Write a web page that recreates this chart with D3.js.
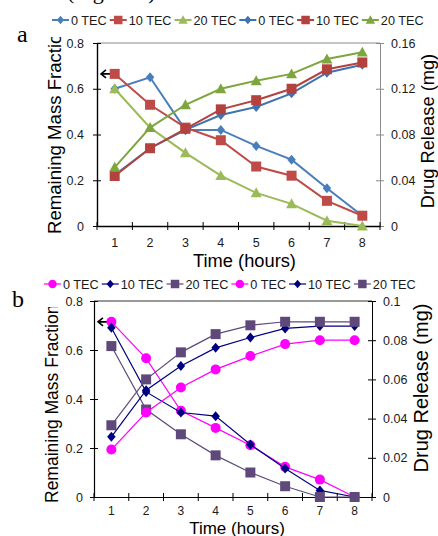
<!DOCTYPE html>
<html><head><meta charset="utf-8">
<script src="https://cdn.jsdelivr.net/npm/d3@7"></script>
<style>body{margin:0;background:#fff}svg{display:block}</style>
</head><body>
<svg id="c" width="438" height="536"></svg>
<script>
// ---------- data ----------
const hours = [1,2,3,4,5,6,7,8];
const seriesNames = ["0 TEC","10 TEC","20 TEC"];
// chart a : remaining mass fraction (left axis)
const aMass0  = [0.60,0.65,0.42,0.42,0.35,0.29,0.165,0.045];
const aMass10 = [0.665,0.53,0.43,0.375,0.26,0.22,0.11,0.045];
const aMass20 = [0.60,0.43,0.32,0.22,0.145,0.097,0.023,0];
// chart a : drug release mg (right axis)
const aDrug0  = [0.0446,0.068,0.084,0.097,0.104,0.116,0.134,0.141];
const aDrug10 = [0.0437,0.068,0.085,0.102,0.110,0.120,0.137,0.143];
const aDrug20 = [0.0513,0.086,0.106,0.120,0.127,0.133,0.146,0.152];
// chart b : remaining mass fraction (left axis)
const bMass0  = [0.715,0.566,0.352,0.282,0.211,0.123,0.071,0];
const bMass10 = [0.691,0.429,0.345,0.33,0.214,0.116,0.027,0];
const bMass20 = [0.616,0.357,0.256,0.17,0.10,0.044,0,0];
// chart b : drug release mg (right axis)
const bDrug0  = [0.0242,0.0431,0.0559,0.0651,0.0719,0.078,0.080,0.080];
const bDrug10 = [0.0307,0.0545,0.0668,0.0761,0.0814,0.086,0.0872,0.0872];
const bDrug20 = [0.0366,0.060,0.0738,0.0831,0.0876,0.0894,0.0894,0.0894];
// ticks
const aLeftTicks = [0,0.2,0.4,0.6,0.8];
const aLeftTickLabels = ["0","0.2","0.4","0.6","0.8"];
const aRightTicks = [0,0.04,0.08,0.12,0.16];
const aRightTickLabels = ["0","0.04","0.08","0.12","0.16"];
const bLeftTicks = [0,0.2,0.4,0.6,0.8];
const bLeftTickLabels = ["0","0.2","0.4","0.6","0.8"];
const bRightTicks = [0,0.02,0.04,0.06,0.08,0.1];
const bRightTickLabels = ["0","0.02","0.04","0.06","0.08","0.1"];
const xTitle = "Time (hours)";
const leftTitle = "Remaining Mass Fraction";
const rightTitle = "Drug Release (mg)";

// ---------- drawing ----------
const svg = d3.select("#c");
const SANS = "'Liberation Sans', Arial, sans-serif";
const SERIF = "'Liberation Serif', 'Times New Roman', serif";

svg.append("text").attr("x",67).attr("y",-1).attr("font-family",SERIF)
  .attr("font-size",22).attr("fill","#000").text("(Figure 2).");

function markerPath(shape, s){
  const h = s/2;
  if (shape==="diamond") return `M0,${-h}L${h*0.85},0L0,${h}L${-h*0.85},0Z`;
  if (shape==="square") return `M${-h},${-h}H${h}V${h}H${-h}Z`;
  if (shape==="triangle") return `M0,${-h}L${h},${h*0.8}L${-h},${h*0.8}Z`;
  if (shape==="circle") return d3.symbol(d3.symbolCircle, Math.PI*h*h)();
}

let clipId = 0;
function panel(cfg){
  const g = svg.append("g");
  const x = d3.scaleBand().domain(hours).range([cfg.left, cfg.right]);
  const yL = d3.scaleLinear().domain([cfg.leftTicks[0], cfg.leftTicks[cfg.leftTicks.length-1]]).range([cfg.bottom, cfg.top]);
  const yR = d3.scaleLinear().domain([cfg.rightTicks[0], cfg.rightTicks[cfg.rightTicks.length-1]]).range([cfg.bottom, cfg.top]);
  const cx = d => x(d) + x.bandwidth()/2;

  // top border
  g.append("line").attr("x1",cfg.left).attr("x2",cfg.right).attr("y1",cfg.top).attr("y2",cfg.top)
    .attr("stroke",cfg.borderColor).attr("stroke-width",1);

  // left axis
  const la = g.append("g").attr("transform",`translate(${cfg.left},0)`)
    .call(d3.axisLeft(yL).tickValues(cfg.leftTicks).tickFormat((d,i)=>cfg.leftTickLabels[i])
      .tickSize(4).tickSizeOuter(0).tickPadding(cfg.lpad));
  la.selectAll(".tick line").attr("x1",4).attr("stroke","#000");
  la.select(".domain").attr("stroke","#000").attr("stroke-width",cfg.axisW);

  // right axis
  const ra = g.append("g").attr("transform",`translate(${cfg.right},0)`)
    .call(d3.axisRight(yR).tickValues(cfg.rightTicks).tickFormat((d,i)=>cfg.rightTickLabels[i])
      .tickSize(4).tickSizeOuter(0).tickPadding(cfg.rpad));
  ra.selectAll(".tick line").attr("x1",-4).attr("stroke",cfg.rightColor);
  ra.select(".domain").attr("stroke",cfg.rightColor).attr("stroke-width",1);

  // bottom axis (labels at band centres, ticks at band edges)
  const ba = g.append("g").attr("transform",`translate(0,${cfg.bottom})`)
    .call(d3.axisBottom(x).tickSize(0).tickSizeOuter(0).tickPadding(cfg.bpad));
  ba.select(".domain").attr("stroke","#000").attr("stroke-width",cfg.axisW);
  const edges = hours.map(h=>x(h)).concat([x.range()[1]]);
  g.selectAll(null).data(edges).enter().append("line")
    .attr("x1",d=>d).attr("x2",d=>d).attr("y1",cfg.bottom-4).attr("y2",cfg.bottom+4)
    .attr("stroke","#000").attr("stroke-width",1);

  [la,ra].forEach(a=>a.selectAll("text").attr("font-family",SANS).attr("font-size",12.5).attr("fill","#1a1a1a"));
  ba.selectAll("text").attr("font-family",SANS).attr("font-size",cfg.xTickSize).attr("fill","#1a1a1a");

  // axis titles
  g.append("text").attr("x",(x.range()[0]+x.range()[1])/2 + cfg.xTitleShift).attr("y",cfg.xTitleY)
    .attr("text-anchor","middle").attr("font-family",SANS).attr("font-size",cfg.xTitleSize).text(xTitle);

  const cid = "clip"+(clipId++);
  svg.append("clipPath").attr("id",cid).append("rect").attr("x",0).attr("y",cfg.leftClipTop).attr("width",cfg.left).attr("height",cfg.bottom+40-cfg.leftClipTop);
  g.append("g").attr("clip-path",`url(#${cid})`).append("text")
    .attr("transform",`translate(${cfg.leftTitleX},${cfg.leftTitleY}) rotate(-90)`)
    .attr("font-family",SANS).attr("font-size",cfg.leftTitleSize).text(leftTitle);

  g.append("text").attr("transform",`translate(${cfg.rightTitleX},${cfg.rightTitleY}) rotate(-90)`)
    .attr("text-anchor","middle").attr("font-family",SANS).attr("font-size",cfg.rightTitleSize).text(rightTitle);

  // arrow pointing at left axis
  const ay = yL(cfg.arrowValue);
  g.append("path").attr("d",`M${cfg.left+4},${ay}H${cfg.left+21}M${cfg.left+9},${ay-4}L${cfg.left+4},${ay}L${cfg.left+9},${ay+4}`)
    .attr("fill","none").attr("stroke","#000").attr("stroke-width",1.6);

  // series
  cfg.series.forEach(s=>{
    const y = s.axis==="L" ? yL : yR;
    const line = d3.line().x((d,i)=>cx(hours[i])).y(d=>y(d));
    g.append("path").attr("d",line(s.values)).attr("fill","none").attr("stroke",s.color).attr("stroke-width",cfg.lineW);
    g.selectAll(null).data(s.values).enter().append("path")
      .attr("transform",(d,i)=>`translate(${cx(hours[i])},${y(d)})`)
      .attr("d",markerPath(s.shape,s.size)).attr("fill",s.color);
  });

  // legend
  let lx = cfg.legendX;
  cfg.series.forEach(s=>{
    const lg = g.append("g");
    lg.append("line").attr("x1",lx).attr("x2",lx+17).attr("y1",cfg.legendY).attr("y2",cfg.legendY)
      .attr("stroke",s.color).attr("stroke-width",cfg.lineW);
    lg.append("path").attr("transform",`translate(${lx+8.5},${cfg.legendY})`).attr("d",markerPath(s.shape,s.size*0.85)).attr("fill",s.color);
    const t = lg.append("text").attr("x",lx+19).attr("y",cfg.legendY+4.5).attr("font-family",SANS)
      .attr("font-size",12.7).attr("fill","#1a1a1a").text(s.name);
    lx += 19 + t.node().getComputedTextLength() + 3;
  });

  svg.append("text").attr("x",cfg.letterX).attr("y",cfg.letterY).attr("font-family",SERIF)
    .attr("font-size",24).text(cfg.letter);
}

const aColL = ["#4A7EBB","#BE4B48","#9BBB59"];
const aColR = ["#3F72B2","#B3423F","#7EA63F"];
panel({
  letter:"a", letterX:17, letterY:42,
  left:97, right:380, top:43, bottom:226,
  leftTicks:aLeftTicks, leftTickLabels:aLeftTickLabels,
  rightTicks:aRightTicks, rightTickLabels:aRightTickLabels,
  lpad:9, rpad:7, bpad:12, xTickSize:12.5, axisW:1.4, lineW:2, borderColor:"#8a8a8a", rightColor:"#8a8a8a",
  xTitleY:267, xTitleSize:18.3, xTitleShift:6,
  leftTitleX:61, leftTitleY:234, leftTitleSize:18.6, leftClipTop:37,
  rightTitleX:434, rightTitleY:131, rightTitleSize:18.3,
  arrowValue:aMass10[0],
  legendX:52, legendY:20,
  series:[
    {name:seriesNames[0], values:aMass0,  axis:"L", color:aColL[0], shape:"diamond", size:10},
    {name:seriesNames[1], values:aMass10, axis:"L", color:aColL[1], shape:"square", size:10},
    {name:seriesNames[2], values:aMass20, axis:"L", color:aColL[2], shape:"triangle", size:11},
    {name:seriesNames[0], values:aDrug0,  axis:"R", color:aColR[0], shape:"diamond", size:10},
    {name:seriesNames[1], values:aDrug10, axis:"R", color:aColR[1], shape:"square", size:10},
    {name:seriesNames[2], values:aDrug20, axis:"R", color:aColR[2], shape:"triangle", size:11}
  ]
});

const bCol = ["#FF00FF","#000080","#5F497A"];
panel({
  letter:"b", letterX:12, letterY:307,
  left:94, right:372, top:301, bottom:497,
  leftTicks:bLeftTicks, leftTickLabels:bLeftTickLabels,
  rightTicks:bRightTicks, rightTickLabels:bRightTickLabels,
  lpad:7, rpad:7, bpad:9.5, xTickSize:12, axisW:1.2, lineW:1.2, borderColor:"#333", rightColor:"#000",
  xTitleY:533.5, xTitleSize:17, xTitleShift:4,
  leftTitleX:58, leftTitleY:503, leftTitleSize:17.5, leftClipTop:307,
  rightTitleX:428, rightTitleY:388, rightTitleSize:20,
  arrowValue:bMass0[0],
  legendX:44, legendY:284,
  series:[
    {name:seriesNames[0], values:bMass0,  axis:"L", color:bCol[0], shape:"circle", size:10},
    {name:seriesNames[1], values:bMass10, axis:"L", color:bCol[1], shape:"diamond", size:10},
    {name:seriesNames[2], values:bMass20, axis:"L", color:bCol[2], shape:"square", size:10},
    {name:seriesNames[0], values:bDrug0,  axis:"R", color:bCol[0], shape:"circle", size:10},
    {name:seriesNames[1], values:bDrug10, axis:"R", color:bCol[1], shape:"diamond", size:10},
    {name:seriesNames[2], values:bDrug20, axis:"R", color:bCol[2], shape:"square", size:10}
  ]
});
</script>
</body></html>
